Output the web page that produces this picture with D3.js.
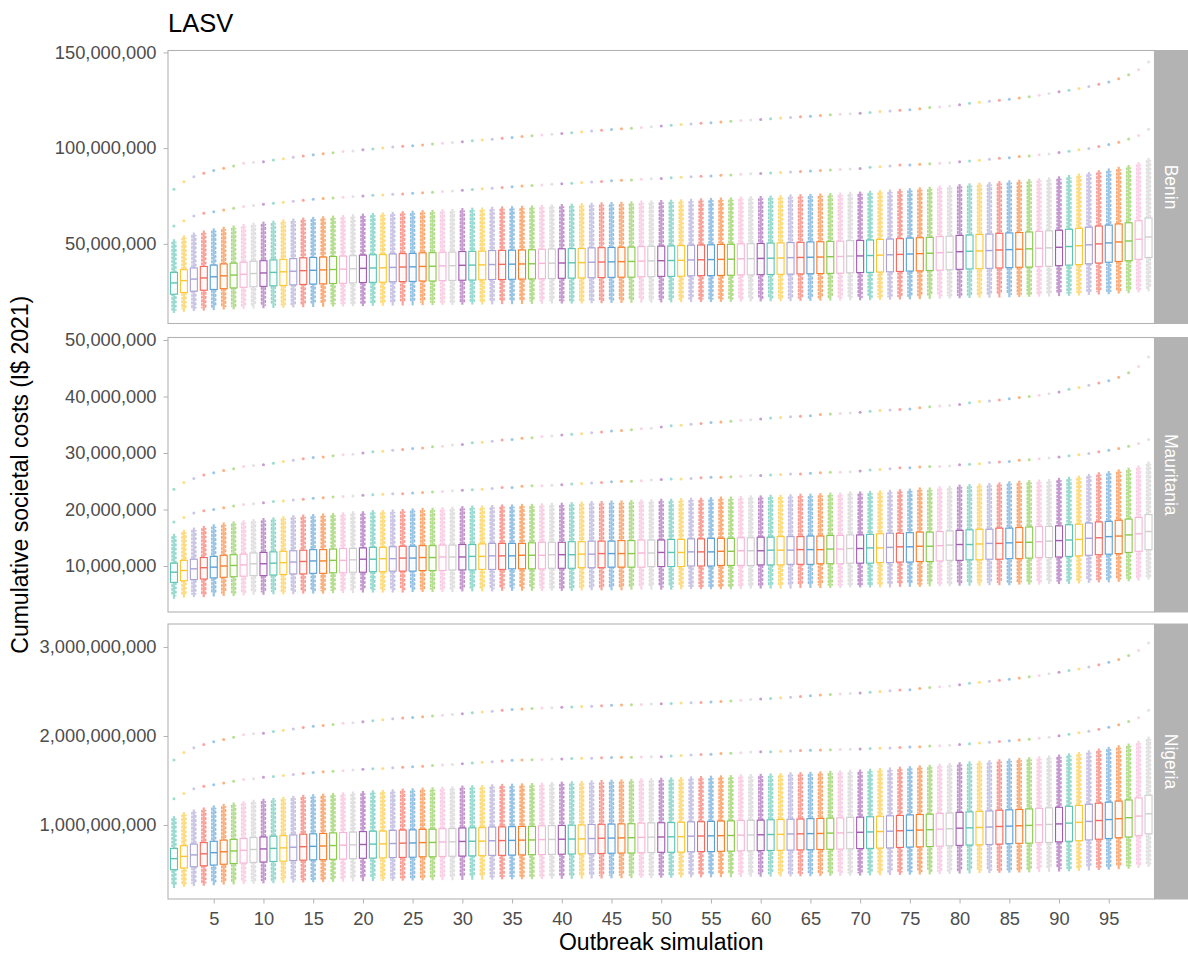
<!DOCTYPE html>
<html>
<head>
<meta charset="utf-8">
<script src="https://cdn.jsdelivr.net/npm/d3@7"></script>
<style>
  body { margin: 0; background: #fff; }
  text { font-family: "Liberation Sans", Arial, sans-serif; }
</style>
</head>
<body>
<svg id="chart" width="1188" height="954"></svg>
<script>
// outbreak simulation ids (x categories)
const sims = d3.range(1, 100);
const xTicks = [5, 10, 15, 20, 25, 30, 35, 40, 45, 50, 55, 60, 65, 70, 75, 80, 85, 90, 95];

// colour cycles every 10 simulations
const palette = ['#5cc4b2', '#fdc733', '#a9a3d5', '#f5695c', '#5ba0d5',
                 '#f97d2b', '#88c94b', '#f7b5d7', '#cecece', '#a15cb2'];

// all values in millions of I$ 2021
// ---- Benin ----
const beninOut1 = [
  78.5, 82.5, 85.1, 86.9, 88.3, 89.5, 90.7, 92.1, 92.6, 92.9,
  93.8, 94.5, 95.2, 95.9, 96.6, 97.1, 97.6, 98.2, 98.5, 99.1,
  99.6, 100.1, 100.6, 101.0, 101.3, 101.7, 102.1, 102.5, 102.9, 103.3,
  103.8, 104.3, 104.7, 105.2, 105.6, 106.1, 106.5, 106.9, 107.3, 107.7,
  108.1, 108.5, 108.9, 109.3, 109.7, 110.1, 110.4, 110.8, 111.2, 111.5,
  111.9, 112.3, 112.6, 113.0, 113.3, 113.7, 114.0, 114.4, 114.7, 115.0,
  115.3, 115.7, 116.0, 116.4, 116.7, 117.1, 117.4, 117.7, 118.0, 118.2,
  118.6, 119.1, 119.4, 119.8, 120.0, 120.6, 121.2, 121.5, 122.0, 122.6,
  123.4, 124.0, 124.5, 125.0, 125.6, 126.2, 126.9, 127.6, 128.5, 129.4,
  130.3, 131.1, 132.2, 133.4, 134.6, 136.2, 138.3, 140.9, 145.0];
const beninOut2 = [
  59.3, 62.1, 64.6, 66.0, 66.8, 67.7, 68.6, 69.5, 70.0, 70.7,
  71.2, 71.7, 72.3, 72.8, 73.3, 73.7, 74.0, 74.3, 74.7, 75.0,
  75.4, 75.5, 75.9, 76.1, 76.4, 76.7, 77.0, 77.3, 77.6, 78.0,
  78.4, 78.8, 79.1, 79.5, 79.8, 80.2, 80.5, 80.8, 81.1, 81.4,
  81.7, 82.0, 82.3, 82.6, 82.9, 83.2, 83.4, 83.7, 84.0, 84.2,
  84.5, 84.8, 85.0, 85.3, 85.5, 85.8, 86.0, 86.3, 86.6, 86.8,
  87.0, 87.3, 87.5, 87.8, 88.0, 88.3, 88.6, 88.8, 89.1, 89.4,
  90.0, 90.3, 90.7, 91.2, 91.2, 91.6, 91.9, 92.1, 92.4, 92.9,
  93.3, 93.7, 94.2, 94.7, 95.0, 95.6, 95.9, 96.5, 97.0, 97.7,
  98.4, 99.1, 99.8, 100.8, 101.9, 103.1, 104.8, 106.6, 109.9];
const beninHigh = [
  52.4, 54.5, 55.9, 57.0, 58.1, 58.9, 59.6, 60.4, 61.1, 61.6,
  62.1, 62.7, 63.2, 63.7, 64.1, 64.4, 64.8, 65.1, 65.5, 65.8,
  66.2, 66.4, 66.7, 67.1, 67.3, 67.6, 67.8, 68.1, 68.3, 68.7,
  68.9, 69.0, 69.4, 69.6, 69.7, 69.9, 70.1, 70.4, 70.6, 70.8,
  71.0, 71.2, 71.5, 71.7, 71.9, 72.0, 72.2, 72.6, 72.7, 72.9,
  73.1, 73.3, 73.6, 73.8, 74.0, 74.2, 74.3, 74.7, 74.9, 75.0,
  75.2, 75.4, 75.8, 75.9, 76.1, 76.3, 76.6, 76.8, 77.2, 77.3,
  77.7, 78.1, 78.4, 78.8, 79.1, 79.5, 79.8, 80.4, 80.7, 81.2,
  81.6, 82.0, 82.3, 82.8, 83.2, 83.5, 83.9, 84.4, 84.8, 85.3,
  86.0, 86.7, 87.6, 88.5, 89.4, 90.3, 91.2, 92.7, 94.9];
const beninQ3 = [
  35.1, 36.5, 37.4, 38.2, 38.9, 39.5, 39.9, 40.4, 40.9, 41.2,
  41.6, 41.9, 42.3, 42.7, 42.9, 43.1, 43.4, 43.6, 43.8, 44.1,
  44.3, 44.4, 44.7, 44.9, 45.0, 45.3, 45.4, 45.6, 45.7, 46.0,
  46.1, 46.2, 46.5, 46.6, 46.7, 46.8, 46.9, 47.2, 47.3, 47.4,
  47.5, 47.6, 47.9, 48.0, 48.1, 48.2, 48.3, 48.6, 48.7, 48.8,
  48.9, 49.1, 49.3, 49.4, 49.5, 49.7, 49.8, 50.0, 50.1, 50.2,
  50.4, 50.5, 50.7, 50.8, 51.0, 51.1, 51.3, 51.4, 51.7, 51.8,
  52.0, 52.3, 52.5, 52.7, 53.0, 53.2, 53.4, 53.8, 54.0, 54.4,
  54.6, 54.9, 55.1, 55.5, 55.7, 55.9, 56.2, 56.5, 56.8, 57.1,
  57.6, 58.1, 58.7, 59.3, 59.8, 60.4, 61.0, 62.1, 63.5];
const beninMed = [
  29.6, 30.8, 31.6, 32.2, 32.8, 33.3, 33.7, 34.1, 34.5, 34.8,
  35.1, 35.4, 35.7, 36.0, 36.2, 36.4, 36.6, 36.8, 37.0, 37.2,
  37.4, 37.5, 37.7, 37.9, 38.0, 38.2, 38.3, 38.5, 38.6, 38.8,
  38.9, 39.0, 39.2, 39.3, 39.4, 39.5, 39.6, 39.8, 39.9, 40.0,
  40.1, 40.2, 40.4, 40.5, 40.6, 40.7, 40.8, 41.0, 41.1, 41.2,
  41.3, 41.4, 41.6, 41.7, 41.8, 41.9, 42.0, 42.2, 42.3, 42.4,
  42.5, 42.6, 42.8, 42.9, 43.0, 43.1, 43.3, 43.4, 43.6, 43.7,
  43.9, 44.1, 44.3, 44.5, 44.7, 44.9, 45.1, 45.4, 45.6, 45.9,
  46.1, 46.3, 46.5, 46.8, 47.0, 47.2, 47.4, 47.7, 47.9, 48.2,
  48.6, 49.0, 49.5, 50.0, 50.5, 51.0, 51.5, 52.4, 53.6];
const beninQ1 = [
  23.7, 24.6, 25.3, 25.8, 26.2, 26.6, 27.0, 27.3, 27.6, 27.8,
  28.1, 28.3, 28.6, 28.8, 29.0, 29.1, 29.3, 29.4, 29.6, 29.8,
  29.9, 30.0, 30.2, 30.3, 30.4, 30.6, 30.6, 30.8, 30.9, 31.0,
  31.1, 31.2, 31.4, 31.4, 31.5, 31.6, 31.7, 31.8, 31.9, 32.0,
  32.1, 32.2, 32.3, 32.4, 32.5, 32.6, 32.6, 32.8, 32.9, 33.0,
  33.0, 33.1, 33.3, 33.4, 33.4, 33.5, 33.6, 33.8, 33.8, 33.9,
  34.0, 34.1, 34.2, 34.3, 34.4, 34.5, 34.6, 34.7, 34.9, 35.0,
  35.1, 35.3, 35.4, 35.6, 35.8, 35.9, 36.1, 36.3, 36.5, 36.7,
  36.9, 37.0, 37.2, 37.4, 37.6, 37.8, 37.9, 38.2, 38.3, 38.6,
  38.9, 39.2, 39.6, 40.0, 40.4, 40.8, 41.2, 41.9, 42.9];
const beninLow = [
  13.9, 14.5, 14.9, 15.1, 15.4, 15.7, 15.8, 16.0, 16.2, 16.4,
  16.5, 16.6, 16.8, 16.9, 17.0, 17.1, 17.2, 17.3, 17.4, 17.5,
  17.6, 17.6, 17.7, 17.8, 17.9, 18.0, 18.0, 18.1, 18.1, 18.2,
  18.3, 18.3, 18.4, 18.5, 18.5, 18.6, 18.6, 18.7, 18.8, 18.8,
  18.8, 18.9, 19.0, 19.0, 19.1, 19.1, 19.2, 19.3, 19.3, 19.4,
  19.4, 19.5, 19.6, 19.6, 19.6, 19.7, 19.7, 19.8, 19.9, 19.9,
  20.0, 20.0, 20.1, 20.2, 20.2, 20.3, 20.4, 20.4, 20.5, 20.5,
  20.6, 20.7, 20.8, 20.9, 21.0, 21.1, 21.2, 21.3, 21.4, 21.6,
  21.7, 21.8, 21.9, 22.0, 22.1, 22.2, 22.3, 22.4, 22.5, 22.7,
  22.8, 23.0, 23.3, 23.5, 23.7, 24.0, 24.2, 24.6, 25.2];

// ---- Mauritania ----
const mauritaniaOut1 = [
  23.6, 24.8, 25.5, 26.1, 26.5, 26.9, 27.2, 27.6, 27.8, 27.9,
  28.2, 28.5, 28.7, 29.0, 29.2, 29.3, 29.5, 29.7, 29.8, 30.0,
  30.2, 30.3, 30.5, 30.6, 30.8, 30.9, 31.1, 31.2, 31.4, 31.5,
  31.8, 31.9, 32.1, 32.3, 32.4, 32.6, 32.7, 32.9, 33.0, 33.2,
  33.3, 33.4, 33.6, 33.7, 33.9, 34.0, 34.1, 34.3, 34.4, 34.6,
  34.8, 34.9, 35.1, 35.2, 35.4, 35.5, 35.6, 35.8, 35.9, 36.0,
  36.2, 36.3, 36.4, 36.5, 36.6, 36.8, 36.9, 37.0, 37.1, 37.2,
  37.4, 37.5, 37.6, 37.7, 37.8, 38.0, 38.2, 38.3, 38.4, 38.6,
  38.9, 39.1, 39.2, 39.4, 39.6, 39.8, 40.0, 40.2, 40.5, 40.8,
  41.3, 41.6, 42.0, 42.4, 42.8, 43.4, 44.2, 45.3, 47.0];
const mauritaniaOut2 = [
  17.8, 18.6, 19.4, 19.8, 20.0, 20.3, 20.6, 20.9, 21.0, 21.2,
  21.4, 21.5, 21.7, 21.8, 22.0, 22.1, 22.2, 22.3, 22.4, 22.5,
  22.6, 22.7, 22.8, 22.8, 22.9, 23.0, 23.1, 23.2, 23.3, 23.4,
  23.5, 23.6, 23.7, 23.9, 23.9, 24.1, 24.2, 24.2, 24.3, 24.4,
  24.5, 24.6, 24.7, 24.8, 24.9, 25.0, 25.0, 25.1, 25.2, 25.3,
  25.4, 25.4, 25.5, 25.6, 25.7, 25.7, 25.8, 25.9, 26.0, 26.0,
  26.1, 26.2, 26.3, 26.3, 26.4, 26.5, 26.6, 26.6, 26.7, 26.8,
  27.0, 27.1, 27.2, 27.4, 27.4, 27.5, 27.6, 27.6, 27.7, 27.9,
  28.0, 28.1, 28.3, 28.4, 28.5, 28.7, 28.8, 29.0, 29.1, 29.3,
  29.5, 29.7, 29.9, 30.2, 30.5, 30.8, 31.2, 31.7, 32.4];
const mauritaniaHigh = [
  15.7, 16.4, 16.8, 17.1, 17.4, 17.7, 17.9, 18.1, 18.3, 18.5,
  18.6, 18.8, 19.0, 19.1, 19.2, 19.3, 19.4, 19.5, 19.7, 19.7,
  19.9, 19.9, 20.0, 20.1, 20.2, 20.3, 20.3, 20.4, 20.5, 20.6,
  20.7, 20.7, 20.8, 20.9, 20.9, 21.0, 21.0, 21.1, 21.2, 21.2,
  21.3, 21.4, 21.5, 21.5, 21.6, 21.6, 21.7, 21.8, 21.8, 21.9,
  21.9, 22.0, 22.1, 22.1, 22.2, 22.3, 22.3, 22.4, 22.5, 22.5,
  22.6, 22.6, 22.7, 22.8, 22.8, 22.9, 23.0, 23.0, 23.2, 23.2,
  23.3, 23.4, 23.5, 23.6, 23.7, 23.9, 23.9, 24.1, 24.2, 24.4,
  24.5, 24.6, 24.7, 24.8, 25.0, 25.1, 25.2, 25.3, 25.4, 25.6,
  25.8, 26.0, 26.3, 26.6, 26.8, 27.1, 27.4, 27.8, 28.5];
const mauritaniaQ3 = [
  10.5, 11.0, 11.2, 11.5, 11.7, 11.9, 12.0, 12.1, 12.3, 12.4,
  12.5, 12.6, 12.7, 12.8, 12.9, 12.9, 13.0, 13.1, 13.1, 13.2,
  13.3, 13.3, 13.4, 13.5, 13.5, 13.6, 13.6, 13.7, 13.7, 13.8,
  13.8, 13.9, 14.0, 14.0, 14.0, 14.0, 14.1, 14.2, 14.2, 14.2,
  14.3, 14.3, 14.4, 14.4, 14.4, 14.5, 14.5, 14.6, 14.6, 14.6,
  14.7, 14.7, 14.8, 14.8, 14.9, 14.9, 14.9, 15.0, 15.0, 15.1,
  15.1, 15.2, 15.2, 15.2, 15.3, 15.3, 15.4, 15.4, 15.5, 15.5,
  15.6, 15.7, 15.8, 15.8, 15.9, 16.0, 16.0, 16.1, 16.2, 16.3,
  16.4, 16.5, 16.5, 16.7, 16.7, 16.8, 16.9, 17.0, 17.0, 17.1,
  17.3, 17.4, 17.6, 17.8, 17.9, 18.1, 18.3, 18.6, 19.1];
const mauritaniaMed = [
  8.9, 9.2, 9.5, 9.7, 9.8, 10.0, 10.1, 10.2, 10.4, 10.4,
  10.5, 10.6, 10.7, 10.8, 10.9, 10.9, 11.0, 11.0, 11.1, 11.2,
  11.2, 11.3, 11.3, 11.4, 11.4, 11.5, 11.5, 11.6, 11.6, 11.6,
  11.7, 11.7, 11.8, 11.8, 11.8, 11.9, 11.9, 11.9, 12.0, 12.0,
  12.0, 12.1, 12.1, 12.2, 12.2, 12.2, 12.2, 12.3, 12.3, 12.4,
  12.4, 12.4, 12.5, 12.5, 12.5, 12.6, 12.6, 12.7, 12.7, 12.7,
  12.8, 12.8, 12.8, 12.9, 12.9, 12.9, 13.0, 13.0, 13.1, 13.1,
  13.2, 13.2, 13.3, 13.4, 13.4, 13.5, 13.5, 13.6, 13.7, 13.8,
  13.8, 13.9, 14.0, 14.0, 14.1, 14.2, 14.2, 14.3, 14.4, 14.5,
  14.6, 14.7, 14.9, 15.0, 15.2, 15.3, 15.5, 15.7, 16.1];
const mauritaniaQ1 = [
  7.1, 7.4, 7.6, 7.7, 7.9, 8.0, 8.1, 8.2, 8.3, 8.3,
  8.4, 8.5, 8.6, 8.6, 8.7, 8.7, 8.8, 8.8, 8.9, 8.9,
  9.0, 9.0, 9.1, 9.1, 9.1, 9.2, 9.2, 9.2, 9.3, 9.3,
  9.3, 9.4, 9.4, 9.4, 9.5, 9.5, 9.5, 9.5, 9.6, 9.6,
  9.6, 9.7, 9.7, 9.7, 9.8, 9.8, 9.8, 9.8, 9.9, 9.9,
  9.9, 9.9, 10.0, 10.0, 10.0, 10.1, 10.1, 10.1, 10.1, 10.2,
  10.2, 10.2, 10.3, 10.3, 10.3, 10.4, 10.4, 10.4, 10.5, 10.5,
  10.5, 10.6, 10.6, 10.7, 10.7, 10.8, 10.8, 10.9, 11.0, 11.0,
  11.1, 11.1, 11.2, 11.2, 11.3, 11.3, 11.4, 11.5, 11.5, 11.6,
  11.7, 11.8, 11.9, 12.0, 12.1, 12.2, 12.4, 12.6, 12.9];
const mauritaniaLow = [
  4.2, 4.4, 4.5, 4.5, 4.6, 4.7, 4.7, 4.8, 4.9, 4.9,
  5.0, 5.0, 5.0, 5.1, 5.1, 5.1, 5.2, 5.2, 5.2, 5.3,
  5.3, 5.3, 5.3, 5.3, 5.4, 5.4, 5.4, 5.4, 5.4, 5.5,
  5.5, 5.5, 5.5, 5.6, 5.6, 5.6, 5.6, 5.6, 5.6, 5.6,
  5.6, 5.7, 5.7, 5.7, 5.7, 5.7, 5.8, 5.8, 5.8, 5.8,
  5.8, 5.9, 5.9, 5.9, 5.9, 5.9, 5.9, 5.9, 6.0, 6.0,
  6.0, 6.0, 6.0, 6.1, 6.1, 6.1, 6.1, 6.1, 6.2, 6.2,
  6.2, 6.2, 6.2, 6.3, 6.3, 6.3, 6.4, 6.4, 6.4, 6.5,
  6.5, 6.5, 6.6, 6.6, 6.6, 6.7, 6.7, 6.7, 6.8, 6.8,
  6.8, 6.9, 7.0, 7.1, 7.1, 7.2, 7.3, 7.4, 7.6];

// ---- Nigeria ----
const nigeriaOut1 = [
  1729, 1813, 1867, 1905, 1934, 1960, 1985, 2014, 2025, 2031,
  2050, 2065, 2079, 2094, 2109, 2119, 2130, 2142, 2149, 2161,
  2172, 2182, 2193, 2201, 2207, 2216, 2224, 2233, 2241, 2249,
  2260, 2270, 2279, 2289, 2298, 2304, 2309, 2313, 2317, 2322,
  2326, 2331, 2335, 2339, 2344, 2348, 2350, 2355, 2359, 2362,
  2366, 2370, 2373, 2377, 2381, 2388, 2394, 2402, 2409, 2415,
  2421, 2430, 2436, 2444, 2451, 2459, 2465, 2472, 2478, 2482,
  2491, 2501, 2507, 2516, 2520, 2533, 2545, 2552, 2562, 2575,
  2591, 2604, 2615, 2625, 2638, 2650, 2665, 2680, 2699, 2717,
  2736, 2753, 2776, 2801, 2827, 2860, 2904, 2959, 3045];
const nigeriaOut2 = [
  1295, 1354, 1407, 1436, 1453, 1472, 1491, 1510, 1520, 1535,
  1545, 1556, 1568, 1579, 1589, 1598, 1604, 1610, 1619, 1625,
  1633, 1636, 1644, 1648, 1654, 1661, 1667, 1673, 1680, 1688,
  1696, 1705, 1711, 1720, 1726, 1731, 1734, 1737, 1740, 1742,
  1746, 1749, 1751, 1755, 1758, 1760, 1761, 1765, 1767, 1768,
  1775, 1781, 1785, 1791, 1796, 1802, 1806, 1812, 1819, 1823,
  1824, 1828, 1832, 1836, 1839, 1842, 1846, 1849, 1852, 1855,
  1859, 1862, 1866, 1871, 1875, 1880, 1886, 1891, 1897, 1904,
  1912, 1920, 1929, 1938, 1945, 1955, 1963, 1975, 1987, 2002,
  2018, 2035, 2052, 2075, 2098, 2125, 2162, 2205, 2290];
const nigeriaHigh = [
  1100, 1145, 1174, 1197, 1220, 1237, 1252, 1268, 1283, 1294,
  1304, 1317, 1327, 1338, 1346, 1352, 1361, 1367, 1376, 1382,
  1390, 1394, 1401, 1409, 1413, 1420, 1424, 1430, 1434, 1443,
  1447, 1449, 1457, 1462, 1464, 1468, 1472, 1478, 1483, 1487,
  1491, 1495, 1502, 1506, 1510, 1512, 1516, 1525, 1527, 1531,
  1535, 1539, 1546, 1550, 1554, 1558, 1560, 1569, 1573, 1575,
  1579, 1583, 1592, 1594, 1598, 1602, 1609, 1613, 1621, 1623,
  1632, 1640, 1646, 1655, 1661, 1670, 1676, 1688, 1695, 1705,
  1714, 1722, 1728, 1739, 1747, 1754, 1762, 1772, 1781, 1791,
  1806, 1821, 1840, 1859, 1877, 1896, 1915, 1947, 1993];
const nigeriaQ3 = [
  737, 767, 785, 802, 817, 830, 838, 848, 859, 865,
  874, 880, 888, 897, 901, 905, 911, 916, 920, 926,
  930, 932, 939, 943, 945, 951, 953, 958, 960, 966,
  968, 970, 977, 979, 981, 983, 985, 991, 993, 995,
  998, 1000, 1006, 1008, 1010, 1012, 1014, 1021, 1023, 1025,
  1027, 1031, 1035, 1037, 1040, 1044, 1046, 1050, 1052, 1054,
  1058, 1061, 1065, 1067, 1071, 1073, 1077, 1079, 1086, 1088,
  1092, 1098, 1103, 1107, 1113, 1117, 1121, 1130, 1134, 1142,
  1147, 1153, 1157, 1166, 1170, 1174, 1180, 1187, 1193, 1199,
  1210, 1220, 1233, 1245, 1256, 1268, 1281, 1304, 1334];
const nigeriaMed = [
  622, 647, 664, 676, 689, 699, 708, 716, 725, 731,
  737, 743, 750, 756, 760, 764, 769, 773, 777, 781,
  785, 788, 792, 796, 798, 802, 804, 809, 811, 815,
  817, 819, 823, 825, 827, 830, 832, 836, 838, 840,
  842, 844, 848, 851, 853, 855, 857, 861, 863, 865,
  867, 869, 874, 876, 878, 880, 882, 886, 888, 890,
  893, 895, 899, 901, 903, 905, 909, 911, 916, 918,
  922, 926, 930, 935, 939, 943, 947, 953, 958, 964,
  968, 972, 977, 983, 987, 991, 995, 1002, 1006, 1012,
  1021, 1029, 1040, 1050, 1061, 1071, 1082, 1100, 1126];
const nigeriaQ1 = [
  498, 517, 531, 542, 550, 559, 567, 573, 580, 584,
  590, 594, 601, 605, 609, 611, 615, 617, 622, 626,
  628, 630, 634, 636, 638, 643, 643, 647, 649, 651,
  653, 655, 659, 659, 662, 664, 666, 668, 670, 672,
  674, 676, 678, 680, 683, 685, 685, 689, 691, 693,
  693, 695, 699, 701, 701, 704, 706, 710, 710, 712,
  714, 716, 718, 720, 722, 725, 727, 729, 733, 735,
  737, 741, 743, 748, 752, 754, 758, 762, 767, 771,
  775, 777, 781, 785, 790, 794, 796, 802, 804, 811,
  817, 823, 832, 840, 848, 857, 865, 880, 901];
const nigeriaLow = [
  292, 305, 313, 317, 323, 330, 332, 336, 340, 344,
  347, 349, 353, 355, 357, 359, 361, 363, 365, 368,
  370, 370, 372, 374, 376, 378, 378, 380, 380, 382,
  384, 384, 386, 389, 389, 391, 391, 393, 395, 395,
  395, 397, 399, 399, 401, 401, 403, 405, 405, 407,
  407, 410, 412, 412, 412, 414, 414, 416, 418, 418,
  420, 420, 422, 424, 424, 426, 428, 428, 431, 431,
  433, 435, 437, 439, 441, 443, 445, 447, 449, 454,
  456, 458, 460, 462, 464, 466, 468, 470, 473, 477,
  479, 483, 489, 494, 498, 504, 508, 517, 529];

// y-axis ticks (millions)
const beninTicks = [50, 100, 150];
const mauritaniaTicks = [10, 20, 30, 40, 50];
const nigeriaTicks = [1000, 2000, 3000];

const countries = ['Benin', 'Mauritania', 'Nigeria'];

function buildRows(out1, out2, high, q3, med, q1, low) {
    return sims.map((s, i) => ({
        sim: s, out1: out1[i], out2: out2[i], high: high[i],
        q3: q3[i], med: med[i], q1: q1[i], low: low[i],
        color: palette[i % palette.length]
    }));
}

const facets = [
    { name: countries[0], top: 50.5, bottom: 323.5, domain: [8.4, 151.0], ticks: beninTicks,
      rows: buildRows(beninOut1, beninOut2, beninHigh, beninQ3, beninMed, beninQ1, beninLow) },
    { name: countries[1], top: 337.5, bottom: 612, domain: [1.86, 50.44], ticks: mauritaniaTicks,
      rows: buildRows(mauritaniaOut1, mauritaniaOut2, mauritaniaHigh, mauritaniaQ3, mauritaniaMed, mauritaniaQ1, mauritaniaLow) },
    { name: countries[2], top: 624, bottom: 899, domain: [168.5, 3258], ticks: nigeriaTicks,
      rows: buildRows(nigeriaOut1, nigeriaOut2, nigeriaHigh, nigeriaQ3, nigeriaMed, nigeriaQ1, nigeriaLow) }
];

const panelLeft = 168;
const panelRight = 1154.5;
const stripWidth = 33.5;
const borderColor = '#b3b3b3';
const tickFont = 18.3;
const titleFont = 23;
const fmt = d3.format(',');

const svg = d3.select('#chart');
svg.append('rect').attr('width', 1188).attr('height', 954).attr('fill', '#fff');

const x = d3.scalePoint()
    .domain(sims)
    .range([panelLeft, panelRight])
    .padding(0.6);

const boxW = 7;

function drawPanel(f) {
    const y = d3.scaleLinear().domain(f.domain).range([f.bottom, f.top]);
    const g = svg.append('g');

    g.append('rect')
        .attr('x', panelLeft).attr('y', f.top)
        .attr('width', panelRight - panelLeft).attr('height', f.bottom - f.top)
        .attr('fill', '#fff');

    // jittered cloud: a soft core plus two dotted side strands
    const cloud = g.append('g');
    cloud.selectAll(null)
        .data(f.rows)
        .join('line')
        .attr('x1', d => x(d.sim)).attr('x2', d => x(d.sim))
        .attr('y1', d => y(d.high)).attr('y2', d => y(d.low))
        .attr('stroke', d => d.color)
        .attr('stroke-width', 2.2)
        .attr('opacity', 0.6);
    const strands = [
        { dx: -1.9, dash: '1.6 2.1', off: 0 },
        { dx: 1.9, dash: '1.6 2.7', off: 1.3 }
    ];
    strands.forEach(st => {
        cloud.selectAll(null)
            .data(f.rows)
            .join('line')
            .attr('x1', d => x(d.sim) + st.dx)
            .attr('x2', d => x(d.sim) + st.dx)
            .attr('y1', d => y(d.high) + 3)
            .attr('y2', d => y(d.low) - 3)
            .attr('stroke', d => d.color)
            .attr('stroke-width', 1.6)
            .attr('stroke-dasharray', st.dash)
            .attr('stroke-dashoffset', st.off)
            .attr('stroke-linecap', 'round')
            .attr('opacity', 0.68);
    });

    // two largest values per simulation
    ['out1', 'out2'].forEach(k => {
        g.append('g').selectAll('circle')
            .data(f.rows)
            .join('circle')
            .attr('cx', d => x(d.sim))
            .attr('cy', d => y(d[k]))
            .attr('r', 1.5)
            .attr('fill', d => d.color)
            .attr('opacity', 0.6);
    });

    // boxes
    const boxes = g.append('g').selectAll('g')
        .data(f.rows)
        .join('g');
    boxes.append('rect')
        .attr('x', d => x(d.sim) - boxW / 2)
        .attr('y', d => y(d.q3))
        .attr('width', boxW)
        .attr('height', d => y(d.q1) - y(d.q3))
        .attr('fill', '#fff')
        .attr('fill-opacity', 0.92)
        .attr('stroke', d => d.color)
        .attr('stroke-width', 1.1);
    boxes.append('line')
        .attr('x1', d => x(d.sim) - boxW / 2)
        .attr('x2', d => x(d.sim) + boxW / 2)
        .attr('y1', d => y(d.med))
        .attr('y2', d => y(d.med))
        .attr('stroke', d => d.color)
        .attr('stroke-width', 1.4);

    // panel border
    g.append('rect')
        .attr('x', panelLeft).attr('y', f.top)
        .attr('width', panelRight - panelLeft).attr('height', f.bottom - f.top)
        .attr('fill', 'none')
        .attr('stroke', borderColor)
        .attr('stroke-width', 1.1);

    // strip
    g.append('rect')
        .attr('x', panelRight).attr('y', f.top - 0.5)
        .attr('width', stripWidth).attr('height', f.bottom - f.top + 1)
        .attr('fill', borderColor);
    const cy = (f.top + f.bottom) / 2;
    g.append('text')
        .attr('transform', `translate(${panelRight + stripWidth / 2},${cy}) rotate(90)`)
        .attr('text-anchor', 'middle')
        .attr('dy', '0.35em')
        .attr('fill', '#fff')
        .attr('font-size', 17.5)
        .text(f.name);

    // y axis
    const yAxis = d3.axisLeft(y)
        .tickValues(f.ticks)
        .tickSize(4.5)
        .tickPadding(7)
        .tickFormat(v => fmt(v * 1e6));
    const ax = g.append('g')
        .attr('transform', `translate(${panelLeft},0)`)
        .call(yAxis);
    ax.select('.domain').remove();
    ax.selectAll('.tick line').attr('stroke', borderColor);
    ax.selectAll('.tick text')
        .attr('fill', '#4d4d4d')
        .attr('font-size', tickFont)
        .attr('font-family', '"Liberation Sans", Arial, sans-serif');
}

facets.forEach(drawPanel);

// x axis under the last panel
const last = facets[facets.length - 1];
const xAxis = d3.axisBottom(x)
    .tickValues(xTicks)
    .tickSize(4.5)
    .tickPadding(9);
const xg = svg.append('g')
    .attr('transform', `translate(0,${last.bottom})`)
    .call(xAxis);
xg.select('.domain').remove();
xg.selectAll('.tick line').attr('stroke', borderColor);
xg.selectAll('.tick text')
    .attr('fill', '#4d4d4d')
    .attr('font-size', tickFont)
    .attr('font-family', '"Liberation Sans", Arial, sans-serif');

// titles
svg.append('text')
    .attr('x', 168).attr('y', 32)
    .attr('font-size', 25.5)
    .attr('fill', '#000')
    .text('LASV');

svg.append('text')
    .attr('x', (panelLeft + panelRight) / 2)
    .attr('y', 950)
    .attr('text-anchor', 'middle')
    .attr('font-size', titleFont)
    .attr('fill', '#000')
    .text('Outbreak simulation');

svg.append('text')
    .attr('transform', `translate(28,${(facets[0].top + last.bottom) / 2}) rotate(-90)`)
    .attr('text-anchor', 'middle')
    .attr('font-size', titleFont)
    .attr('fill', '#000')
    .text('Cumulative societal costs (I$ 2021)');
</script>
</body>
</html>
